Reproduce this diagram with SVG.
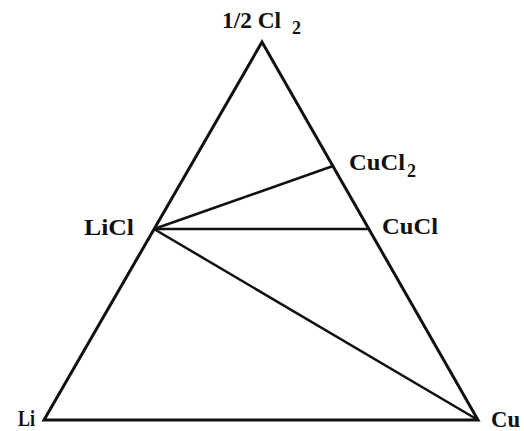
<svg xmlns="http://www.w3.org/2000/svg" width="524" height="431" viewBox="0 0 524 431">
<style>
.lbl{font-family:"Liberation Serif","Times New Roman",serif;font-weight:bold;font-size:23px;fill:#111}
.sub{font-family:"Liberation Serif","Times New Roman",serif;font-weight:bold;font-size:18px;fill:#111}
.edge{fill:none;stroke:#111;stroke-width:3;stroke-linejoin:miter}
.tie{fill:none;stroke:#111;stroke-width:2.5}
</style>
<rect width="524" height="431" fill="#fff"/>
<g id="connectors">
<polygon class="edge" points="262,42 44,420 478,420"/>
<line class="tie" x1="154" y1="229" x2="333" y2="166"/>
<line class="tie" x1="154" y1="229" x2="368" y2="229"/>
<line class="tie" x1="154" y1="229" x2="478" y2="420"/>
</g>
<g id="Cl2"><text class="lbl" x="222" y="28" textLength="59" lengthAdjust="spacingAndGlyphs">1/2 Cl</text><text class="sub" x="292" y="34">2</text></g>
<g id="CuCl2"><text class="lbl" x="349" y="170" textLength="56" lengthAdjust="spacingAndGlyphs">CuCl</text><text class="sub" x="407" y="177">2</text></g>
<g id="LiCl"><text class="lbl" x="84" y="235" textLength="50" lengthAdjust="spacingAndGlyphs">LiCl</text></g>
<g id="CuCl"><text class="lbl" x="382" y="234" textLength="56" lengthAdjust="spacingAndGlyphs">CuCl</text></g>
<g id="Li"><text class="lbl" x="18" y="426" textLength="17" lengthAdjust="spacingAndGlyphs">Li</text></g>
<g id="Cu"><text class="lbl" x="491" y="427" textLength="29" lengthAdjust="spacingAndGlyphs">Cu</text></g>
</svg>
